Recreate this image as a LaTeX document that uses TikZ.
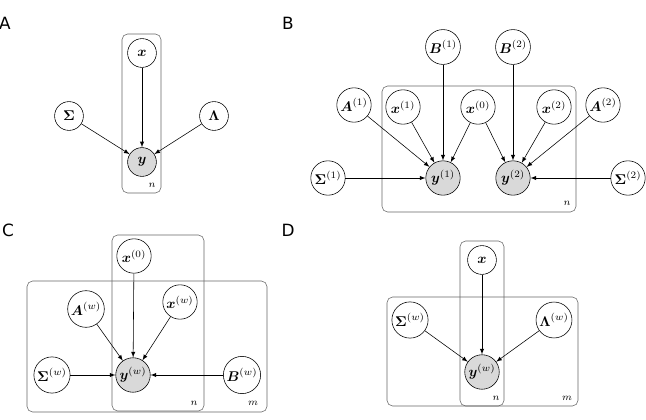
\documentclass[tikz,border=0pt]{standalone}
\usepackage{amsmath,amsbsy}
\usepackage{fontspec}
\newfontfamily\panelfont{DejaVu Sans}
\usepackage{tikz}
\usetikzlibrary{arrows}

\begin{document}
\begin{tikzpicture}[x=0.025cm,y=-0.025cm,>=latex,
  var/.style={draw,circle,thin,fill=white,inner sep=1pt,minimum size=7.2mm},
  varw/.style={var,minimum size=8.6mm},
  obs/.style={fill=black!15},
  plate/.style={draw=black!60,rounded corners=4pt,thin},
  platelabel/.style={inner sep=0pt,font=\scriptsize},
  panel/.style={inner sep=0pt,font=\panelfont\fontsize{12}{14}\selectfont}]

\useasboundingbox (0,0) rectangle (646,420);

%% A
\node[panel] (labA) at (5,23) {A};
\draw[plate] (122,34) rectangle (161,193);
\node[platelabel] (nA) at (152,185) {$n$};
\node[var] (aX) at (142,53) {$\boldsymbol{x}$};
\node[var,obs] (aY) at (142,162) {$\boldsymbol{y}$};
\node[var] (aSig) at (69,116) {$\boldsymbol{\Sigma}$};
\node[var] (aLam) at (214,116) {$\boldsymbol{\Lambda}$};
\draw[->] (aX) -- (aY);
\draw[->] (aSig) -- (aY);
\draw[->] (aLam) -- (aY);

%% B
\node[panel] (labB) at (288,23) {B};
\draw[plate] (382,86) rectangle (576,212);
\node[platelabel] (nB) at (567,203) {$n$};
\node[varw] (bB1) at (443,47) {$\boldsymbol{B}^{(1)}$};
\node[varw] (bB2) at (513,47) {$\boldsymbol{B}^{(2)}$};
\node[varw] (bA1) at (354,105) {$\boldsymbol{A}^{(1)}$};
\node[varw] (bX1) at (403,107) {$\boldsymbol{x}^{(1)}$};
\node[varw] (bX0) at (478,107) {$\boldsymbol{x}^{(0)}$};
\node[varw] (bX2) at (554,107) {$\boldsymbol{x}^{(2)}$};
\node[varw] (bA2) at (603,105) {$\boldsymbol{A}^{(2)}$};
\node[varw] (bS1) at (328,178) {$\boldsymbol{\Sigma}^{(1)}$};
\node[varw,obs] (bY1) at (443,178) {$\boldsymbol{y}^{(1)}$};
\node[varw,obs] (bY2) at (513,178) {$\boldsymbol{y}^{(2)}$};
\node[varw] (bS2) at (628,178) {$\boldsymbol{\Sigma}^{(2)}$};
\draw[->] (bB1) -- (bY1);
\draw[->] (bA1) -- (bY1);
\draw[->] (bX1) -- (bY1);
\draw[->] (bX0) -- (bY1);
\draw[->] (bS1) -- (bY1);
\draw[->] (bB2) -- (bY2);
\draw[->] (bA2) -- (bY2);
\draw[->] (bX2) -- (bY2);
\draw[->] (bX0) -- (bY2);
\draw[->] (bS2) -- (bY2);

%% C
\node[panel] (labC) at (8,230) {C};
\draw[plate] (112,235) rectangle (204,411);
\draw[plate] (27,281) rectangle (267,412);
\node[platelabel] (nC) at (194,403) {$n$};
\node[platelabel] (mC) at (253,403) {$m$};
\node[varw] (cX0) at (134,256) {$\boldsymbol{x}^{(0)}$};
\node[varw] (cA) at (86,309) {$\boldsymbol{A}^{(w)}$};
\node[varw] (cXw) at (180,302) {$\boldsymbol{x}^{(w)}$};
\node[varw] (cS) at (52,375) {$\boldsymbol{\Sigma}^{(w)}$};
\node[varw,obs] (cY) at (133,375) {$\boldsymbol{y}^{(w)}$};
\node[varw] (cB) at (242,375) {$\boldsymbol{B}^{(w)}$};
\draw[->] (cX0) -- (cY);
\draw[->] (cA) -- (cY);
\draw[->] (cXw) -- (cY);
\draw[->] (cS) -- (cY);
\draw[->] (cB) -- (cY);

%% D
\node[panel] (labD) at (288,230) {D};
\draw[plate] (460,241) rectangle (504,406);
\draw[plate] (387,297) rectangle (578,406);
\node[platelabel] (nD) at (496,398) {$n$};
\node[platelabel] (mD) at (567,398) {$m$};
\node[var] (dX) at (482,260) {$\boldsymbol{x}$};
\node[varw] (dS) at (410,320) {$\boldsymbol{\Sigma}^{(w)}$};
\node[varw] (dL) at (554,320) {$\boldsymbol{\Lambda}^{(w)}$};
\node[varw,obs] (dY) at (482,372) {$\boldsymbol{y}^{(w)}$};
\draw[->] (dX) -- (dY);
\draw[->] (dS) -- (dY);
\draw[->] (dL) -- (dY);

\end{tikzpicture}
\end{document}
